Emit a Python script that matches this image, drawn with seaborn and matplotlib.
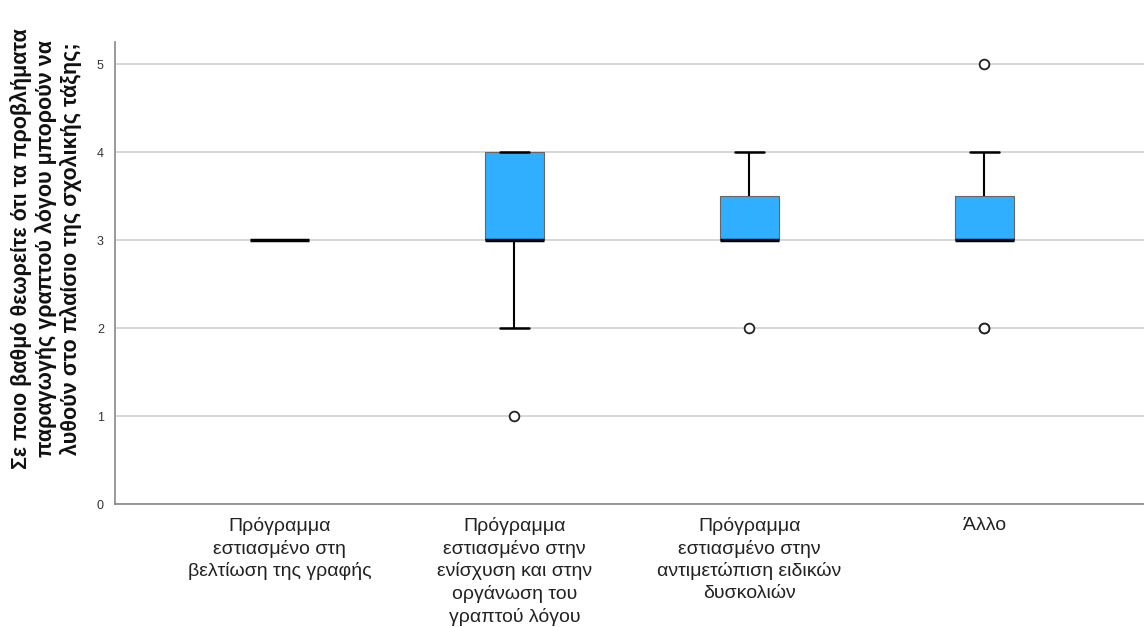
import pandas as pd
import seaborn as sns
import matplotlib.pyplot as plt

# raw answers per programme type (1-5 scale)
categories = [
    'Πρόγραμμα\nεστιασμένο στη\nβελτίωση της γραφής',
    'Πρόγραμμα\nεστιασμένο στην\nενίσχυση και στην\nοργάνωση του\nγραπτού λόγου',
    'Πρόγραμμα\nεστιασμένο στην\nαντιμετώπιση ειδικών\nδυσκολιών',
    'Άλλο',
]
writing = [3, 3, 3, 3, 3]
organising = [1, 2, 3, 3, 3, 3, 4, 4, 4]
difficulties = [2, 3, 3, 3, 3, 4, 4]
other = [2, 2, 3, 3, 3, 3, 3, 3, 3, 3, 3, 4, 4, 4, 5]

ylabel = ('Σε ποιο βαθμό θεωρείτε ότι τα προβλήματα\n'
          'παραγωγής γραπτού λόγου μπορούν να\n'
          'λυθούν στο πλαίσιο της σχολικής τάξης;')

groups = [writing, organising, difficulties, other]
df = pd.DataFrame({
    'programme': [c for c, g in zip(categories, groups) for _ in g],
    'value': [v for g in groups for v in g],
})

sns.set_style('white')
plt.rcParams['font.family'] = ['Liberation Sans', 'DejaVu Sans']

fig = plt.figure(figsize=(11.44, 6.27), dpi=100)
ax = fig.add_axes([0.1005, 0.196, 0.8995, 0.737])

ax.grid(axis='y', color='#d4d4d4', linewidth=1.3, zorder=0)
ax.set_axisbelow(True)

sns.boxplot(data=df, x='programme', y='value', order=categories, ax=ax,
            color='#30aeff', saturation=1, width=0.25, whis=1.5,
            linewidth=1.0,
            boxprops=dict(edgecolor='#666666', linewidth=0.8),
            medianprops=dict(color='black', linewidth=2.5),
            whiskerprops=dict(color='black', linewidth=1.5),
            capprops=dict(color='black', linewidth=1.8),
            flierprops=dict(marker='o', markerfacecolor='white',
                            markeredgecolor='#222222', markersize=7,
                            markeredgewidth=1.3))

ax.set_xlim(-0.7, 3.68)
ax.set_ylim(0, 5.25)
ax.set_yticks([0, 1, 2, 3, 4, 5])
ax.tick_params(axis='y', length=0, pad=8, labelsize=9, labelcolor='#333333')
ax.tick_params(axis='x', length=0, pad=9, labelsize=14, labelcolor='#222222')
for t in ax.get_xticklabels():
    t.set_linespacing(1.35)
ax.set_xlabel('')
ax.set_ylabel(ylabel, fontsize=15.5, fontweight='bold', color='#111111',
              linespacing=1.2)
ax.yaxis.set_label_coords(-0.067, 0.553)
ax.yaxis.label.set_verticalalignment('center')

for s in ['top', 'right']:
    ax.spines[s].set_visible(False)
for s in ['left', 'bottom']:
    ax.spines[s].set_color('#888888')
    ax.spines[s].set_linewidth(1.2)

plt.savefig('out.png', dpi=100)
